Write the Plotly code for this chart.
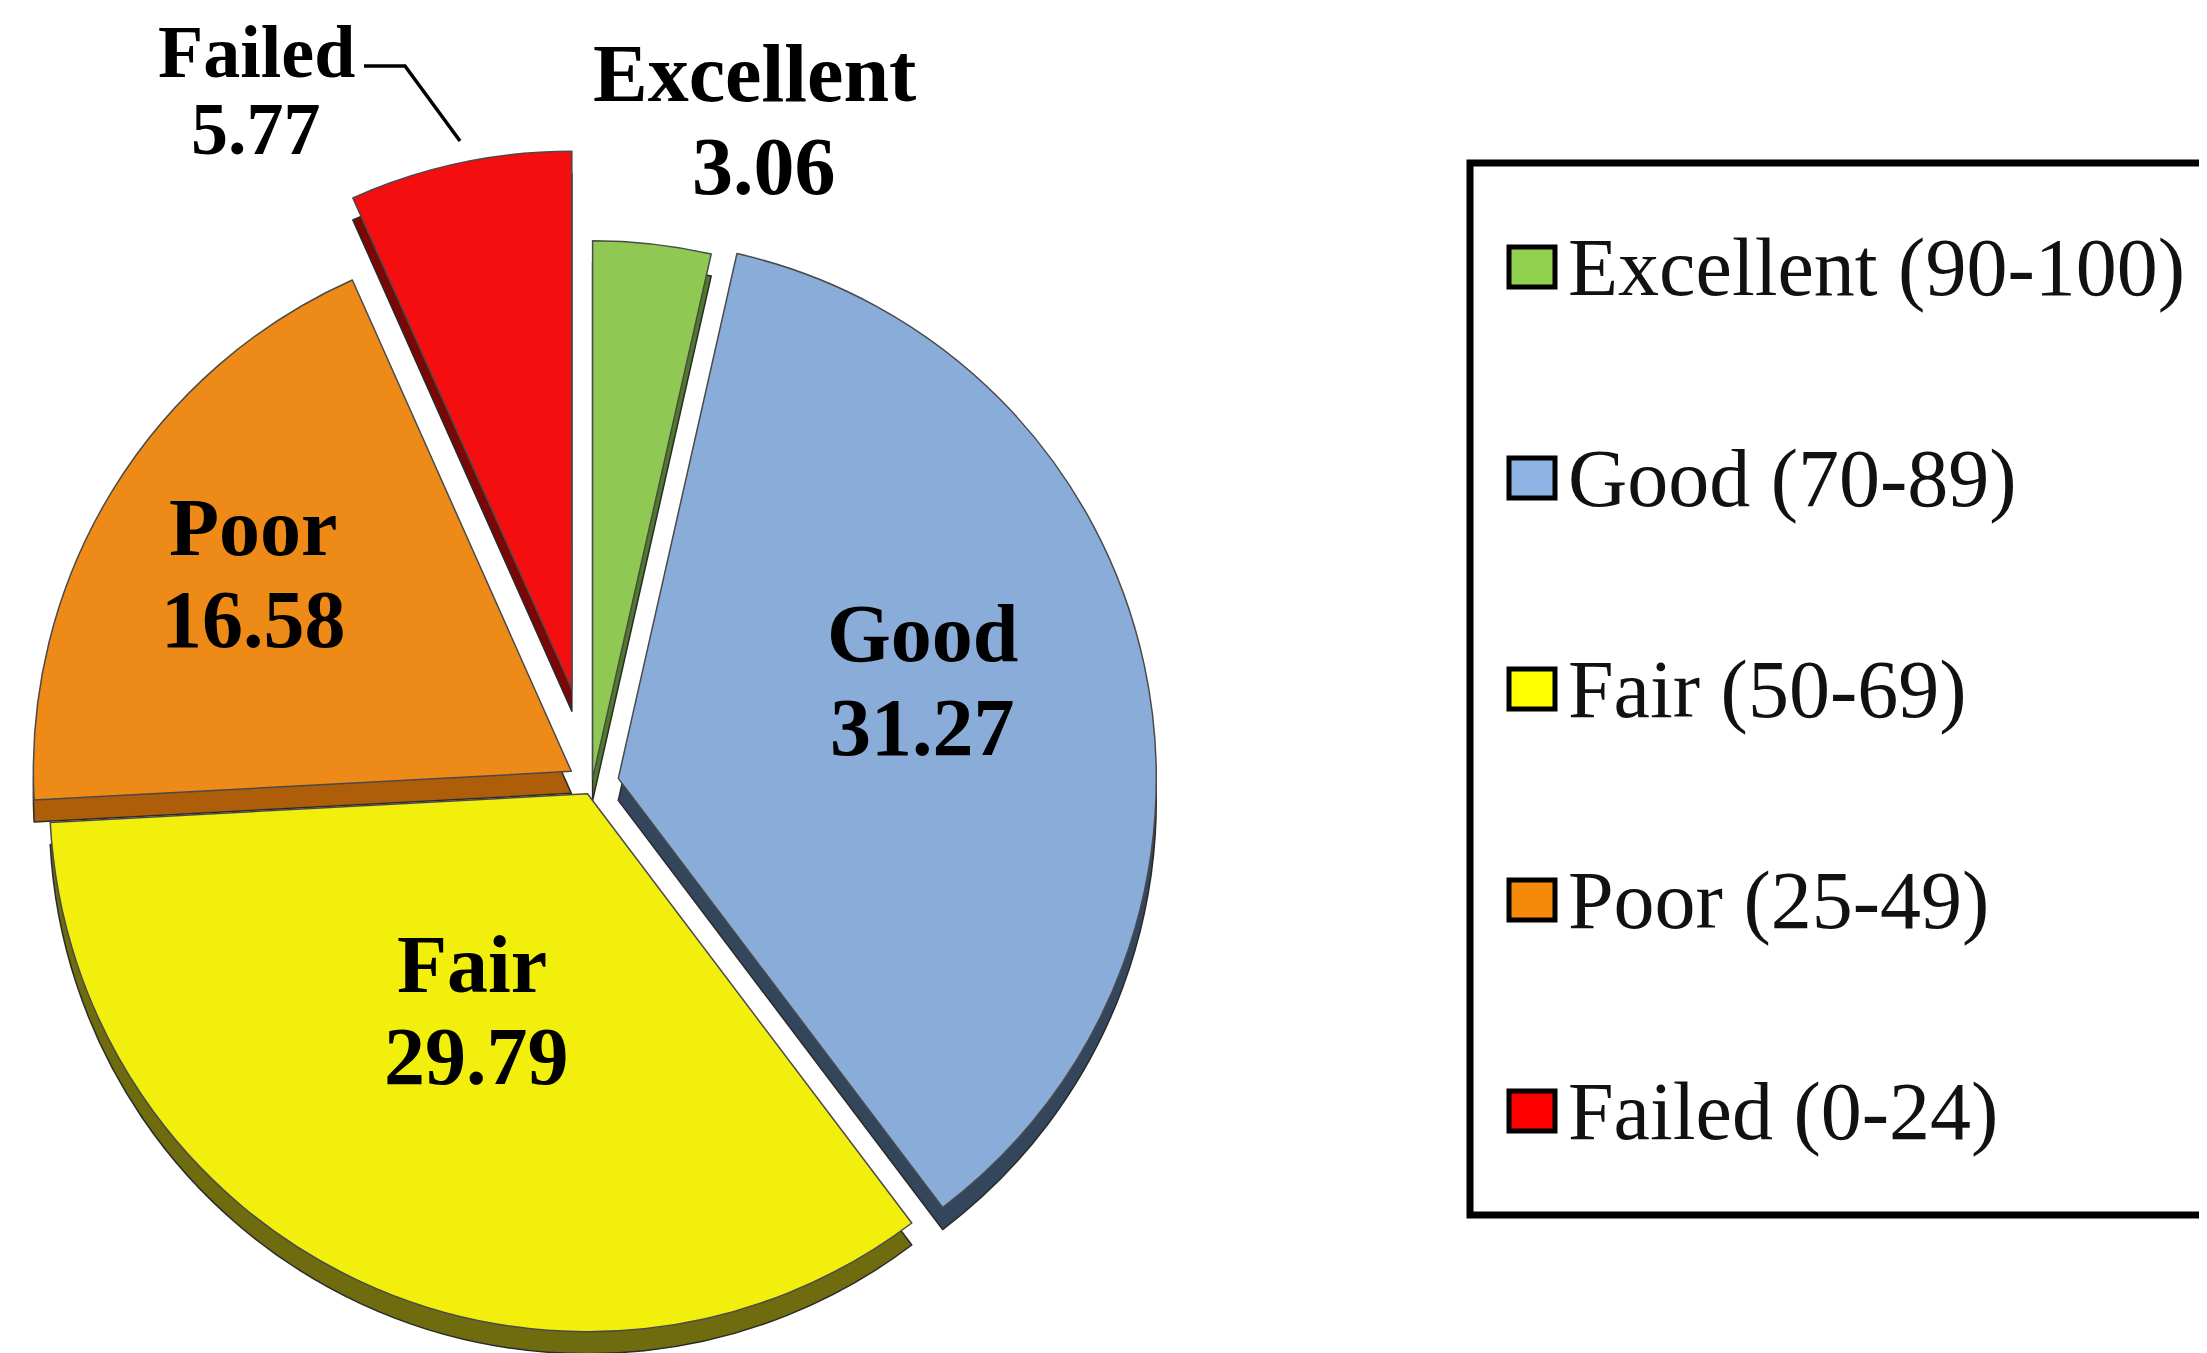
import math
import plotly.graph_objects as go

# ---------------- data ----------------
categories = ["Excellent", "Good", "Fair", "Poor", "Failed"]
values = [3.06, 31.27, 29.79, 16.58, 5.77]
legend_labels = ["Excellent (90-100)", "Good (70-89)", "Fair (50-69)", "Poor (25-49)", "Failed (0-24)"]

# ---------------- styles ----------------
W, H = 2207, 1353
OFF = 8  # page body margin compensation
slice_colors = ["#8FC853", "#89ACD8", "#F2EF0C", "#EE8A18", "#F40E10"]
side_colors = ["#4E7A2A", "#34465C", "#6F6C10", "#AE5E08", "#7A0606"]
legend_colors = ["#92D050", "#8DB4E2", "#FFFF00", "#F58A0A", "#FF0000"]
pulls = [0.01, 0.05, 0.02, 0.045, 0.18]

CX, CY, R = 592, 784, 538
DEPTH = 22
SERIF = "Liberation Serif, Times New Roman, serif"

# label placement (pixel centres of name line and value line)
label_pos = {
    "Excellent": ((754, 73), (764, 166), 82),
    "Good": ((922, 633), (922, 728), 82),
    "Fair": ((472, 964), (476, 1056), 82),
    "Poor": ((253, 528), (253, 619), 82),
    "Failed": ((256, 52), (256, 129), 74),
}
legend_y = [267, 478, 689, 900, 1111]


def px(x):
    return (x - OFF) / W


def py(y):
    return 1 - (y - OFF) / H


def clamp(v):
    return max(0.0, min(1.0, v))


n = len(values)
total = sum(values)
mids = []
acc = 0.0
for v in values:
    mids.append((acc + v / 2) / total * 2 * math.pi)
    acc += v

fig = go.Figure()


def slice_trace(i, colors, extra_dy, line_col):
    dx = pulls[i] * R * math.sin(mids[i])
    dy = -pulls[i] * R * math.cos(mids[i]) + extra_dy
    cx, cy = CX + dx, CY + dy
    fills = [colors[j] if j == i else "rgba(0,0,0,0)" for j in range(n)]
    lcols = [line_col if j == i else "rgba(0,0,0,0)" for j in range(n)]
    lw = [1.5 if j == i else 0 for j in range(n)]
    return go.Pie(
        values=values,
        labels=categories,
        sort=False,
        direction="clockwise",
        rotation=0,
        marker=dict(colors=fills, line=dict(color=lcols, width=lw)),
        textinfo="none",
        hoverinfo="skip",
        showlegend=False,
        domain=dict(
            x=[clamp(px(cx - R)), clamp(px(cx + R))],
            y=[clamp(py(cy + R)), clamp(py(cy - R))],
        ),
    )


# 3D side (depth) layers first, then top faces
for i in range(n):
    fig.add_trace(slice_trace(i, side_colors, DEPTH, "#2a2a2a"))
for i in range(n):
    fig.add_trace(slice_trace(i, slice_colors, 0, "#4a4a4a"))

annotations = []
for i, cat in enumerate(categories):
    (nx, ny), (vx, vy), fs = label_pos[cat]
    annotations.append(dict(
        x=px(nx), y=py(ny), xref="paper", yref="paper", text=cat,
        showarrow=False, xanchor="center", yanchor="middle",
        font=dict(family=SERIF, size=fs, color="black", weight="bold"),
    ))
    annotations.append(dict(
        x=px(vx), y=py(vy), xref="paper", yref="paper", text=f"{values[i]:.2f}",
        showarrow=False, xanchor="center", yanchor="middle",
        font=dict(family=SERIF, size=fs, color="black", weight="bold"),
    ))

shapes = []
# leader line for Failed
shapes.append(dict(
    type="path", xref="paper", yref="paper",
    path=f"M {px(364)},{py(66)} L {px(405)},{py(66)} L {px(460)},{py(141)}",
    line=dict(color="black", width=3.5),
))

# custom legend
shapes.append(dict(
    type="rect", xref="paper", yref="paper",
    x0=px(1470), x1=px(2240), y0=py(1215), y1=py(163),
    line=dict(color="black", width=7), fillcolor="rgba(0,0,0,0)",
))
for i, lab in enumerate(legend_labels):
    yc = legend_y[i]
    shapes.append(dict(
        type="rect", xref="paper", yref="paper",
        x0=px(1509), x1=px(1555), y0=py(yc + 20), y1=py(yc - 20),
        line=dict(color="black", width=5), fillcolor=legend_colors[i],
    ))
    annotations.append(dict(
        x=px(1566), y=py(yc), xref="paper", yref="paper", text=lab,
        showarrow=False, xanchor="left", yanchor="middle",
        font=dict(family=SERIF, size=82, color="#111111"),
    ))

fig.update_layout(
    width=W, height=H,
    margin=dict(l=0, r=0, t=0, b=0),
    paper_bgcolor="white", plot_bgcolor="white",
    showlegend=False,
    annotations=annotations,
    shapes=shapes,
)

fig.write_html("out.html")
